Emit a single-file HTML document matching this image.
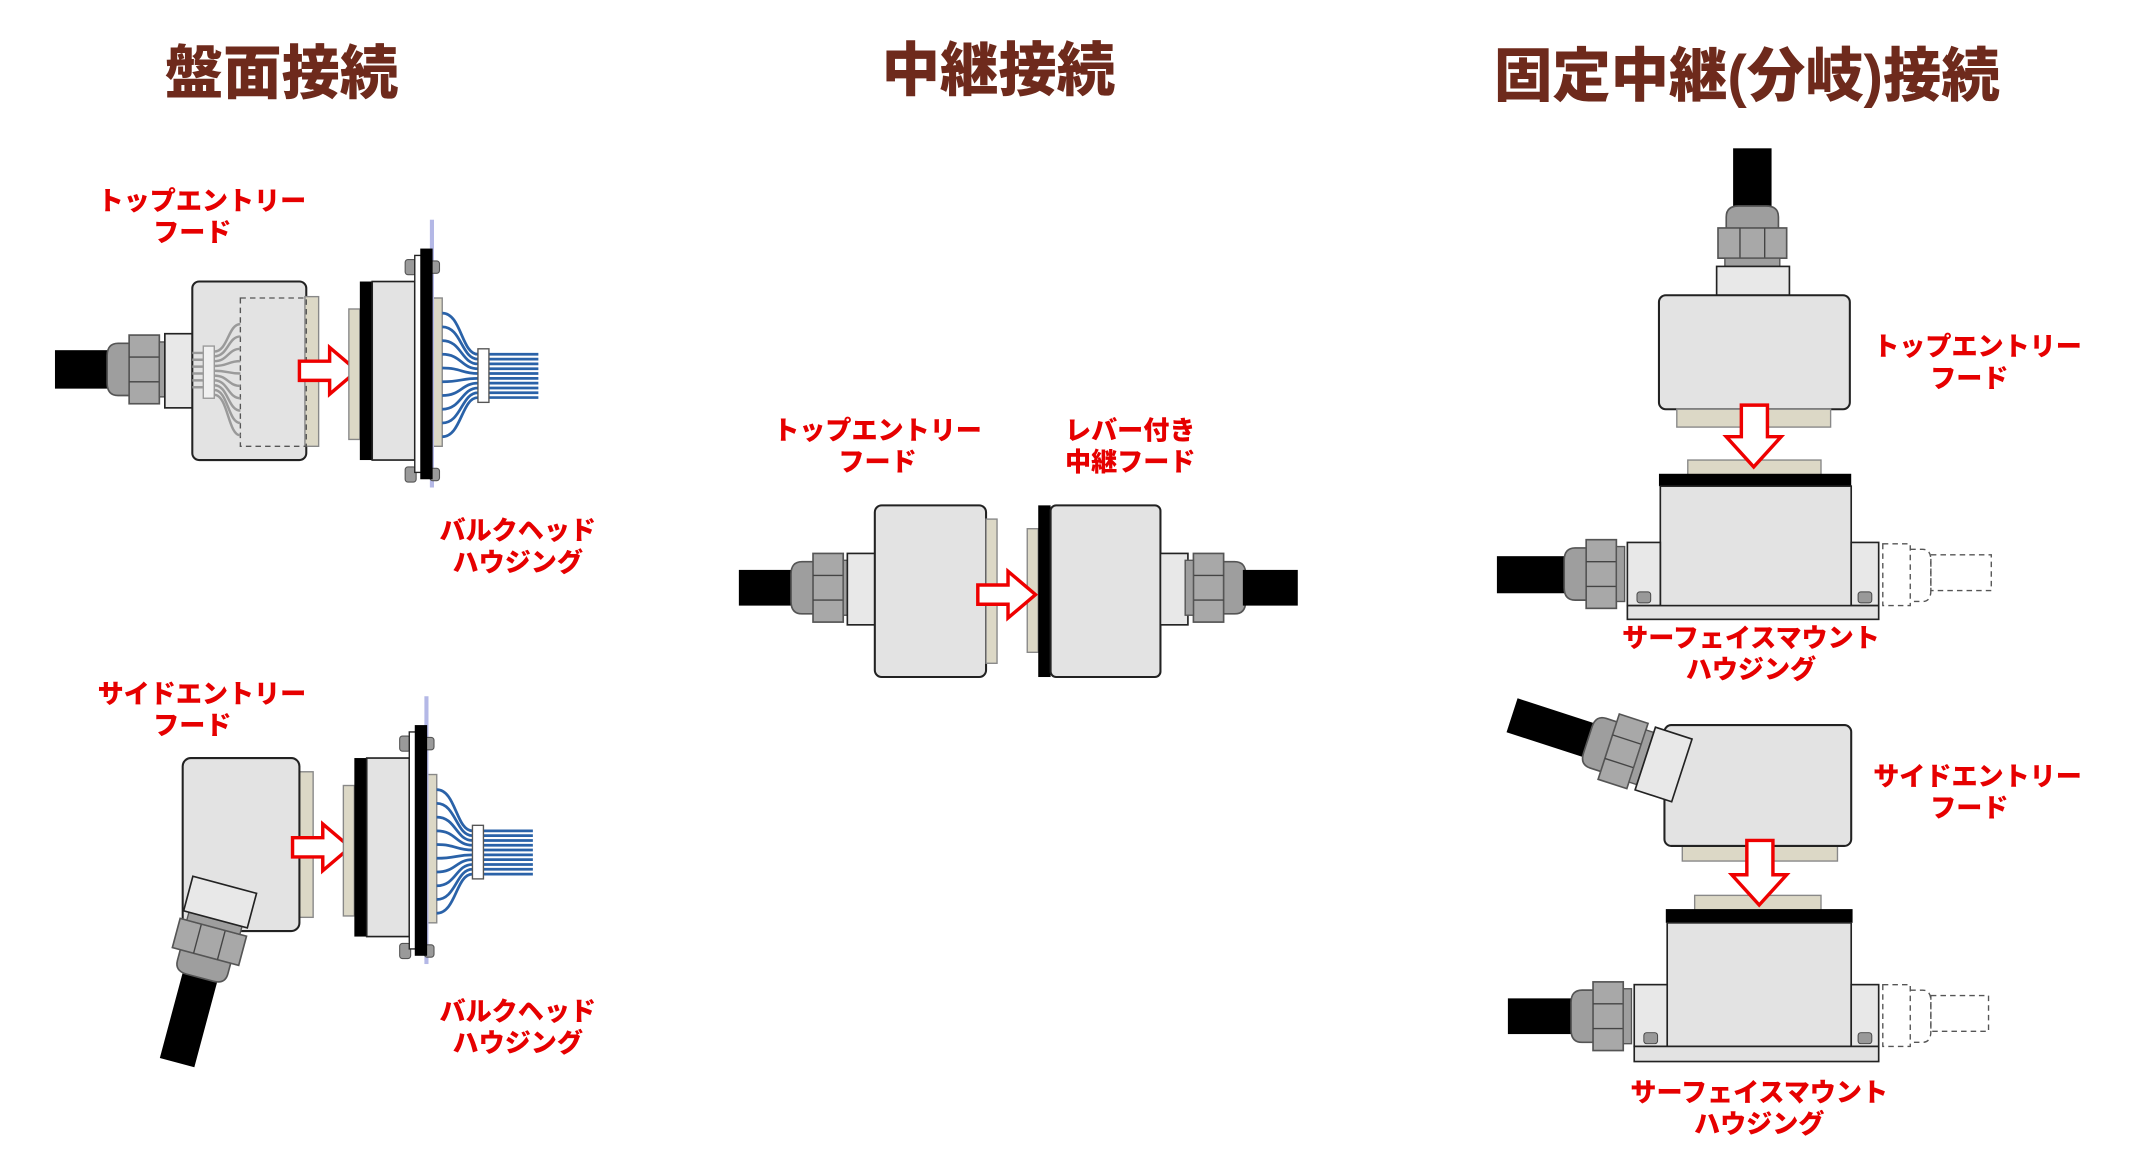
<!DOCTYPE html>
<html><head><meta charset="utf-8"><style>
html,body{margin:0;padding:0;background:#fff;}
svg{display:block;}
.t{font-family:"Liberation Sans","Noto Sans CJK JP",sans-serif;font-weight:900;fill:#6e2a1c;font-size:42.5px;text-anchor:middle;}
.l{font-family:"Liberation Sans","Noto Sans CJK JP",sans-serif;font-weight:900;fill:#e60000;font-size:19px;text-anchor:middle;}
.hood{fill:#e3e3e3;stroke:#222;stroke-width:1.5;}
.bei{fill:#dcd8c6;stroke:#888;stroke-width:1;}
.blk{fill:#000;}
.slv{fill:#e8e8e8;stroke:#222;stroke-width:1.2;}
.arr{fill:#fff;stroke:#e00;stroke-width:2.5;stroke-linejoin:miter;}
.gw{fill:none;stroke:#9a9a9a;stroke-width:1.8;}
.bw{fill:none;stroke:#2a62a8;stroke-width:2;}
.dash{fill:none;stroke:#555;stroke-width:1;stroke-dasharray:4 3;}
</style></head><body>
<svg width="2152" height="1160" viewBox="0 0 1567 844.7" xmlns="http://www.w3.org/2000/svg">
<defs>
  <g id="gland">
    <path d="M22,-19 L8,-19 Q0,-19 0,-10 L0,10 Q0,19 8,19 L22,19 Z" fill="#9e9e9e" stroke="#555" stroke-width="1.2"/>
    <rect x="16" y="-25" width="22" height="50" fill="#a8a8a8" stroke="#555" stroke-width="1.2"/>
    <line x1="16" y1="-9" x2="38" y2="-9" stroke="#444" stroke-width="1"/>
    <line x1="16" y1="9" x2="38" y2="9" stroke="#444" stroke-width="1"/>
    <rect x="38" y="-20" width="6" height="40" fill="#9e9e9e" stroke="#555" stroke-width="1"/>
  </g>
  <g id="arrR"><path class="arr" d="M0,-7 L22,-7 L22,-17 L42,0 L22,17 L22,7 L0,7 Z"/></g>
  <g id="nut">
    <rect x="0" y="0" width="8" height="11" rx="2" fill="#9a9a9a" stroke="#555" stroke-width="0.8"/>
    <rect x="18" y="1" width="7" height="9" rx="2" fill="#9a9a9a" stroke="#555" stroke-width="0.8"/>
  </g>
  <g id="bulk">
    <rect x="254" y="225" width="8" height="95" class="bei"/>
    <rect x="262" y="205" width="9" height="130" class="blk"/>
    <rect x="271" y="205" width="31" height="130" fill="#e3e3e3" stroke="#222" stroke-width="1.2"/>
    <rect x="315" y="217" width="7" height="108" class="bei"/>
    <rect x="313" y="160" width="3" height="195" fill="#b4b8e6"/>
    <use href="#nut" x="295" y="189"/>
    <use href="#nut" x="295" y="340"/>
    <rect x="302" y="186" width="5" height="158" fill="#fff" stroke="#222" stroke-width="1"/>
    <rect x="306" y="181" width="9" height="168" class="blk"/>
    <path class="bw" d="M322,228 C336,228 336,258 348,258 M322,238 C336,238 336,261.5 348,261.5 M322,248 C336,248 336,265 348,265 M322,258 C336,258 336,268.5 348,268.5 M322,268 C336,268 336,272 348,272 M322,278 C336,278 336,275.5 348,275.5 M322,288 C336,288 336,279 348,279 M322,298 C336,298 336,282.5 348,282.5 M322,308 C336,308 336,286 348,286 M322,318 C336,318 336,289.5 348,289.5"/>
    <path class="bw" d="M356,258H392M356,261.5H392M356,265H392M356,268.5H392M356,272H392M356,275.5H392M356,279H392M356,282.5H392M356,286H392M356,289.5H392"/>
    <rect x="348" y="254" width="8" height="39" fill="#fff" stroke="#555" stroke-width="1"/>
  </g>
</defs>

<text class="t" x="205" y="68">盤面接続</text>
<text class="t" x="727" y="66">中継接続</text>
<text class="t" x="1272" y="70">固定中継(分岐)接続</text>

<!-- Left top -->
<text class="l" x="147" y="153">トップエントリー</text>
<text class="l" x="140" y="176">フード</text>
<rect x="40" y="255" width="42" height="28" class="blk"/>
<use href="#gland" x="78" y="269"/>
<rect x="120" y="243" width="20" height="54" class="slv"/>
<rect x="140" y="205" width="83" height="130" rx="5" class="hood"/>
<rect x="222" y="216" width="10" height="109" class="bei"/>
<rect x="175" y="217" width="48" height="108" class="dash" stroke="#567"/>
<path class="gw" d="M156,256 C166,256 166,236 175,236 M156,259.5 C166,259.5 166,245 175,245 M156,263 C166,263 166,254 175,254 M156,266.5 C166,266.5 166,263 175,263 M156,270 C166,270 166,272 175,272 M156,273.5 C166,273.5 166,281 175,281 M156,277 C166,277 166,290 175,290 M156,280.5 C166,280.5 166,299 175,299 M156,284 C166,284 166,308 175,308 M156,287.5 C166,287.5 166,317 175,317"/>
<path class="gw" d="M140,257H148M140,262H148M140,267H148M140,272H148M140,277H148M140,282H148"/>
<rect x="148" y="252" width="8" height="38" fill="#f0f0f0" stroke="#999" stroke-width="1"/>
<use href="#arrR" x="218" y="270"/>
<use href="#bulk"/>
<text class="l" x="377" y="393">バルクヘッド</text>
<text class="l" x="377" y="416">ハウジング</text>

<!-- Left bottom -->
<text class="l" x="147" y="512">サイドエントリー</text>
<text class="l" x="140" y="535">フード</text>
<rect x="218" y="562" width="10" height="106" class="bei"/>
<rect x="133" y="552" width="85" height="126" rx="6" class="hood"/>
<g transform="translate(146,710) rotate(-75)">
  <rect x="-66" y="-13" width="68" height="26" class="blk"/>
  <use href="#gland" x="-2" y="0"/>
  <rect x="42" y="-24" width="26" height="48" class="slv"/>
</g>
<use href="#arrR" x="213" y="617"/>
<g transform="translate(-4,347)"><use href="#bulk"/></g>
<text class="l" x="377" y="743">バルクヘッド</text>
<text class="l" x="377" y="766">ハウジング</text>

<!-- Middle -->
<text class="l" x="639" y="320">トップエントリー</text>
<text class="l" x="639" y="343">フード</text>
<text class="l" x="823" y="320">レバー付き</text>
<text class="l" x="823" y="343">中継フード</text>
<rect x="538" y="415" width="42" height="26" class="blk"/>
<use href="#gland" x="576" y="428"/>
<rect x="617" y="403" width="20" height="52" class="slv"/>
<rect x="637" y="368" width="81" height="125" rx="5" class="hood"/>
<rect x="718" y="378" width="8" height="105" class="bei"/>
<rect x="748" y="385" width="8" height="90" class="bei"/>
<rect x="756" y="368" width="9" height="125" class="blk"/>
<rect x="765" y="368" width="80" height="125" rx="4" class="hood"/>
<rect x="845" y="403" width="20" height="52" class="slv"/>
<g transform="translate(907,428) scale(-1,1)"><use href="#gland"/></g>
<rect x="905" y="415" width="40" height="26" class="blk"/>
<use href="#arrR" x="712" y="433"/>

<!-- Right top -->
<rect x="1262" y="108" width="28" height="44" class="blk"/>
<g transform="translate(1276,150) rotate(90)"><use href="#gland"/></g>
<rect x="1250" y="194" width="53" height="21" class="slv"/>
<rect x="1208" y="215" width="139" height="83" rx="5" class="hood"/>
<rect x="1221" y="298" width="112" height="13" class="bei"/>
<rect x="1229" y="335" width="97" height="11" class="bei"/>
<path class="arr" d="M1268,295 L1287,295 L1287,318 L1297,318 L1277,340 L1257,318 L1268,318 Z"/>
<rect x="1208" y="345" width="140" height="9" class="blk"/>
<rect x="1209" y="354" width="139" height="88" fill="#e3e3e3" stroke="#222" stroke-width="1.2"/>
<rect x="1185" y="395" width="24" height="46" class="slv"/>
<rect x="1348" y="395" width="20" height="46" class="slv"/>
<rect x="1185" y="441" width="183" height="10" fill="#e3e3e3" stroke="#222" stroke-width="1.2"/>
<rect x="1192" y="431" width="10" height="8" rx="2" fill="#999" stroke="#444" stroke-width="0.7"/>
<rect x="1353" y="431" width="10" height="8" rx="2" fill="#999" stroke="#444" stroke-width="0.7"/>
<rect x="1090" y="405" width="52" height="27" class="blk"/>
<use href="#gland" x="1139" y="418"/>
<g class="dash"><rect x="1371" y="396" width="20" height="45"/><path d="M1391,400 L1400,400 Q1406,400 1406,408 L1406,430 Q1406,438 1400,438 L1391,438"/><rect x="1406" y="404" width="44" height="26"/></g>
<text class="l" x="1440" y="259">トップエントリー</text>
<text class="l" x="1434" y="282">フード</text>
<text class="l" x="1275" y="471">サーフェイスマウント</text>
<text class="l" x="1275" y="494">ハウジング</text>

<!-- Right bottom -->
<rect x="1225" y="615" width="113" height="12" class="bei"/>
<rect x="1212" y="528" width="136" height="88" rx="5" class="hood"/>
<g transform="translate(1160,540) rotate(18)">
  <rect x="-62" y="-13" width="62" height="26" class="blk"/>
  <use href="#gland" x="-4" y="0"/>
  <rect x="40" y="-24" width="28" height="48" class="slv"/>
</g>
<rect x="1234" y="652" width="92" height="11" class="bei"/>
<path class="arr" d="M1272,612 L1291,612 L1291,637 L1301,637 L1281,659 L1261,637 L1272,637 Z"/>
<rect x="1213" y="662" width="136" height="10" class="blk"/>
<rect x="1214" y="672" width="134" height="90" fill="#e3e3e3" stroke="#222" stroke-width="1.2"/>
<rect x="1190" y="717" width="24" height="45" class="slv"/>
<rect x="1348" y="717" width="20" height="45" class="slv"/>
<rect x="1190" y="762" width="178" height="11" fill="#e3e3e3" stroke="#222" stroke-width="1.2"/>
<rect x="1197" y="752" width="10" height="8" rx="2" fill="#999" stroke="#444" stroke-width="0.7"/>
<rect x="1353" y="752" width="10" height="8" rx="2" fill="#999" stroke="#444" stroke-width="0.7"/>
<rect x="1098" y="727" width="46" height="26" class="blk"/>
<use href="#gland" x="1144" y="740"/>
<g class="dash"><rect x="1371" y="717" width="20" height="45"/><path d="M1391,721 L1400,721 Q1406,721 1406,729 L1406,751 Q1406,759 1400,759 L1391,759"/><rect x="1406" y="725" width="42" height="26"/></g>
<text class="l" x="1440" y="572">サイドエントリー</text>
<text class="l" x="1434" y="595">フード</text>
<text class="l" x="1281" y="802">サーフェイスマウント</text>
<text class="l" x="1281" y="825">ハウジング</text>
</svg>
</body></html>
